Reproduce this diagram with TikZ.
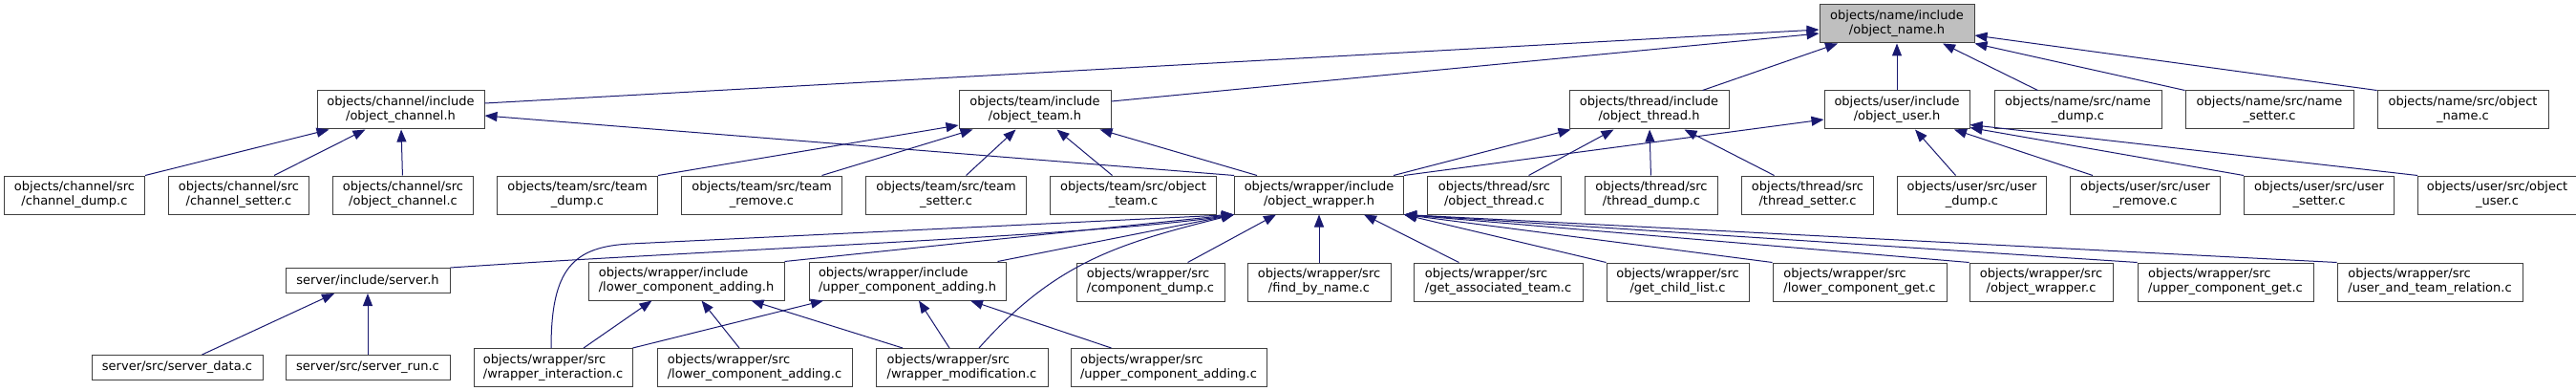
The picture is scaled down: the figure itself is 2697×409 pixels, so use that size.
\documentclass[tikz,border=0pt]{standalone}
\usepackage{fontspec}
\setmainfont{DejaVu Sans}
\usepackage{xcolor}
\usepackage{tikz}
\usetikzlibrary{positioning,arrows.meta}
\definecolor{edgecol}{HTML}{191970}
\definecolor{rootfill}{HTML}{BFBFBF}
\definecolor{boxline}{HTML}{404040}
\tikzset{
  box/.style={draw=boxline, fill=white, line width=1pt, align=center,
              font=\fontsize{13}{15}\selectfont, inner xsep=3pt, inner ysep=2pt,
              minimum width=#1, minimum height=40pt},
  lbox/.style={box=#1, align=left},
  sbox/.style={box=#1, minimum height=26pt},
  root/.style={box=#1, fill=rootfill},
  arr/.style={draw=edgecol, line width=1pt, -{Triangle[length=13pt,width=10pt]}},
}

\begin{document}
\begin{tikzpicture}[x=1pt, y=-1pt, node distance=24pt]
  \fill[white] (0,0) rectangle (2697,409);
  \useasboundingbox (0,0) rectangle (2697,409);
  % headers
  \node[box=175pt] (ochh) at (419.5,115) {objects/channel/include\\/object\_channel.h};
  \node[box=159pt] (oteamh) at (1083.5,115) {objects/team/include\\/object\_team.h};
  \node[box=167pt] (othreadh) at (1726.5,115) {objects/thread/include\\/object\_thread.h};
  \node[box=152pt, right=99pt of othreadh] (ouserh) {objects/user/include\\/object\_user.h};
  \node[root=162pt, above=49pt of ouserh] (oname) {objects/name/include\\/object\_name.h};
  \node[box=175pt, right=25pt of ouserh] (ndump) {objects/name/src/name\\\_dump.c};
  \node[box=176pt, right=of ndump] (nsetter) {objects/name/src/name\\\_setter.c};
  \node[box=179pt, right=of nsetter] (onamec) {objects/name/src/object\\\_name.c};
  % sources and wrapper header
  \node[box=147pt] (chdump) at (78,204) {objects/channel/src\\/channel\_dump.c};
  \node[box=147pt, right=of chdump] (chsetter) {objects/channel/src\\/channel\_setter.c};
  \node[box=147pt, right=of chsetter] (ochc) {objects/channel/src\\/object\_channel.c};
  \node[box=168pt, right=of ochc] (tdump) {objects/team/src/team\\\_dump.c};
  \node[box=168pt, right=of tdump] (tremove) {objects/team/src/team\\\_remove.c};
  \node[box=168pt, right=of tremove] (tsetter) {objects/team/src/team\\\_setter.c};
  \node[box=174pt, right=of tsetter] (oteamc) {objects/team/src/object\\\_team.c};
  \node[box=177pt] (owrapperh) at (1381,204) {objects/wrapper/include\\/object\_wrapper.h};
  \node[box=140pt, right=of owrapperh] (othreadc) {objects/thread/src\\/object\_thread.c};
  \node[box=139pt, right=of othreadc] (thdump) {objects/thread/src\\/thread\_dump.c};
  \node[box=138pt, right=of thdump] (thsetter) {objects/thread/src\\/thread\_setter.c};
  \node[box=156pt, right=of thsetter] (udump) {objects/user/src/user\\\_dump.c};
  \node[box=157pt, right=of udump] (uremove) {objects/user/src/user\\\_remove.c};
  \node[box=157pt, right=of uremove] (usetter) {objects/user/src/user\\\_setter.c};
  \node[box=166pt, right=of usetter] (ouserc) {objects/user/src/object\\\_user.c};
  % wrapper includers
  \node[sbox=172pt] (serverh) at (385,293.5) {server/include/server.h};
  \node[lbox=205pt] (lcah) at (718.5,294) {objects/wrapper/include\\/lower\_component\_adding.h};
  \node[lbox=206pt, right=25pt of lcah] (ucah) {objects/wrapper/include\\/upper\_component\_adding.h};
  \node[box=150pt, below=50pt of owrapperh] (findbn) {objects/wrapper/src\\/find\_by\_name.c};
  \node[lbox=155pt, left=23pt of findbn] (compdump) {objects/wrapper/src\\/component\_dump.c};
  \node[lbox=177pt, right=23pt of findbn] (getat) {objects/wrapper/src\\/get\_associated\_team.c};
  \node[box=149pt, right=of getat] (getcl) {objects/wrapper/src\\/get\_child\_list.c};
  \node[lbox=182pt, right=of getcl] (lcget) {objects/wrapper/src\\/lower\_component\_get.c};
  \node[box=150pt, right=23pt of lcget] (owrapperc) {objects/wrapper/src\\/object\_wrapper.c};
  \node[lbox=184pt, right=25pt of owrapperc] (ucget) {objects/wrapper/src\\/upper\_component\_get.c};
  \node[lbox=194pt, right=of ucget] (utrel) {objects/wrapper/src\\/user\_and\_team\_relation.c};
  % bottom row
  \node[sbox=172pt, below=64pt of serverh] (srun) {server/src/server\_run.c};
  \node[sbox=179pt, left=23pt of srun] (sdata) {server/src/server\_data.c};
  \node[lbox=166pt, right=of srun] (wint) {objects/wrapper/src\\/wrapper\_interaction.c};
  \node[lbox=204pt, right=25pt of wint] (lcac) {objects/wrapper/src\\/lower\_component\_adding.c};
  \node[lbox=180pt, right=of lcac] (wmod) {objects/wrapper/src\\/wrapper\_modification.c};
  \node[lbox=205pt, right=23pt of wmod] (ucac) {objects/wrapper/src\\/upper\_component\_adding.c};
  \coordinate (wintbend) at (660,255);
  % object_name.h
  \draw[arr] ([yshift=7pt]ochh.east) -- ([yshift=-6pt]oname.west);
  \draw[arr] ([yshift=9pt]oteamh.east) -- ([yshift=-10pt]oname.west);
  \draw[arr] ([xshift=56pt]othreadh.north) -- ([xshift=-62pt]oname.south);
  \draw[arr] (ouserh) -- (oname);
  \draw[arr] ([xshift=-42pt]ndump.north) -- ([xshift=48pt]oname.south);
  \draw[arr] (nsetter.north west) -- (oname.south east);
  \draw[arr] (onamec.north west) -- ([yshift=-12pt]oname.east);
  % object_channel.h
  \draw[arr] (chdump.north east) -- ([xshift=-75pt]ochh.south);
  \draw[arr] ([xshift=37pt]chsetter.north) -- ([xshift=-37pt]ochh.south);
  \draw[arr] (ochc) -- (ochh);
  \draw[arr] (owrapperh.north west) -- ([yshift=-6pt]ochh.east);
  % object_team.h
  \draw[arr] (tdump.north east) -- ([yshift=-16pt]oteamh.west);
  \draw[arr] ([xshift=63pt]tremove.north) -- ([xshift=-65pt]oteamh.south);
  \draw[arr] ([xshift=21pt]tsetter.north) -- ([xshift=-20pt]oteamh.south);
  \draw[arr] ([xshift=-22pt]oteamc.north) -- ([xshift=23pt]oteamh.south);
  \draw[arr] ([xshift=-65pt]owrapperh.north) -- ([xshift=68pt]oteamh.south);
  % object_thread.h
  \draw[arr] ([xshift=78pt]owrapperh.north) -- ([xshift=2pt]othreadh.south west);
  \draw[arr] ([xshift=36pt]othreadc.north) -- ([xshift=-37pt]othreadh.south);
  \draw[arr] (thdump) -- (othreadh);
  \draw[arr] ([xshift=-35pt]thsetter.north) -- ([xshift=37pt]othreadh.south);
  % object_user.h
  \draw[arr] (owrapperh.north east) -- ([yshift=-10pt]ouserh.west);
  \draw[arr] ([xshift=-17pt]udump.north) -- ([xshift=19pt]ouserh.south);
  \draw[arr] ([xshift=-55pt]uremove.north) -- ([xshift=60pt]ouserh.south);
  \draw[arr] (usetter.north west) -- ([yshift=2pt]ouserh.south east);
  \draw[arr] (ouserc.north west) -- ([yshift=5pt]ouserh.south east);
  % object_wrapper.h
  \draw[arr] (serverh.north east) .. controls +(279,-19) and +(-142,22) .. (owrapperh.south west);
  \draw[arr] (lcah.north east) -- (owrapperh.south west);
  \draw[arr] ([xshift=-9pt]ucah.north east) -- (owrapperh.south west);
  \draw[arr] ([xshift=-2pt]wint.north) .. controls +(0,-83) and +(-60,3) .. (wintbend) -- (owrapperh.south west);
  \draw[arr] ([xshift=18pt]wmod.north) .. controls +(80,-90) and +(-120,30) .. (owrapperh.south west);
  \draw[arr] ([xshift=39pt]compdump.north) -- ([xshift=-45pt]owrapperh.south);
  \draw[arr] (findbn) -- (owrapperh);
  \draw[arr] ([xshift=-41pt]getat.north) -- ([xshift=47pt]owrapperh.south);
  \draw[arr] (getcl.north west) -- (owrapperh.south east);
  \draw[arr] (lcget.north west) -- (owrapperh.south east);
  \draw[arr] (owrapperc.north west) -- (owrapperh.south east);
  \draw[arr] (ucget.north west) -- (owrapperh.south east);
  \draw[arr] (utrel.north west) -- (owrapperh.south east);
  % component adding headers
  \draw[arr] ([xshift=32pt]wint.north) -- ([xshift=-36pt]lcah.south);
  \draw[arr] ([xshift=-16pt]lcac.north) -- ([xshift=16pt]lcah.south);
  \draw[arr] ([xshift=-62pt]wmod.north) -- ([xshift=68pt]lcah.south);
  \draw[arr] (wint.north east) -- ([xshift=-88pt]ucah.south);
  \draw[arr] ([xshift=-13pt]wmod.north) -- ([xshift=12pt]ucah.south);
  \draw[arr] ([xshift=-60pt]ucac.north) -- ([xshift=66pt]ucah.south);
  % server.h
  \draw[arr] ([xshift=26pt]sdata.north) -- ([xshift=-35pt]serverh.south);
  \draw[arr] (srun) -- (serverh);
\end{tikzpicture}
\end{document}
